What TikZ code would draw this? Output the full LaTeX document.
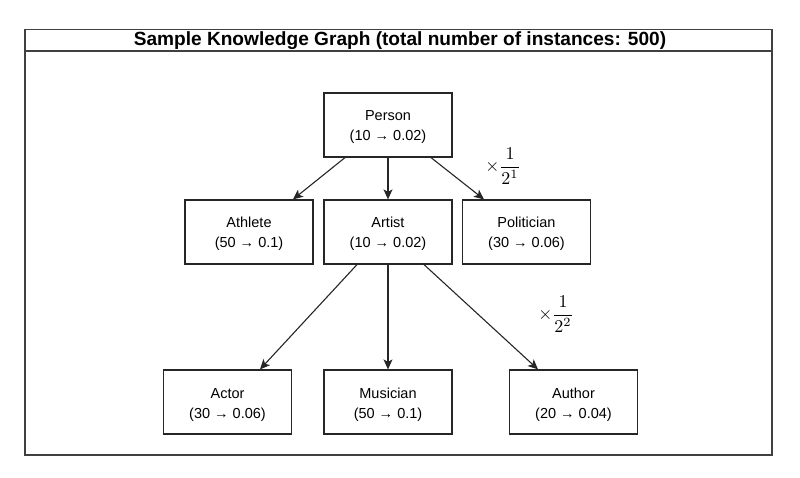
\documentclass[tikz,border=0pt]{standalone}
\usepackage{fontspec}
\setmainfont{Liberation Sans}
\usetikzlibrary{arrows.meta,calc}
\newcommand\kglabel[2]{\rule{0pt}{15pt}#1\\#2}
\begin{document}
\begin{tikzpicture}[x=1pt,y=-1pt,
  kbox/.style={draw=black!85,line width=1.2pt,minimum width=128pt,minimum height=64pt,align=center,inner sep=0pt,
    font=\fontsize{14.5}{20}\selectfont},
  edge/.style={draw=black!85,line width=1.1pt,-{Stealth[length=10pt,width=9pt,inset=2.5pt]}},
  frame/.style={draw=black!75,line width=1.3pt},
  factor/.style={inner sep=0pt}]
\useasboundingbox (0,0) rectangle (800,478);
\draw[frame] (25,29.5) rectangle (772,455);
\draw[frame] (25,51) -- (772,51);
\node[font=\fontsize{19.1}{22}\selectfont\bfseries] (title) at (400,40.5) {Sample Knowledge Graph (total number of instances: 500)};

\node[kbox] (person) at (388,125) {\kglabel{Person}{(10 → 0.02)}};
\node[kbox] (athlete) at (249,232) {\kglabel{Athlete}{(50 → 0.1)}};
\node[kbox] (artist) at (388,232) {\kglabel{Artist}{(10 → 0.02)}};
\node[kbox] (politician) at (526.5,232) {\kglabel{Politician}{(30 → 0.06)}};
\node[kbox] (actor) at (227.5,402) {\kglabel{Actor}{(30 → 0.06)}};
\node[kbox] (musician) at (388,402) {\kglabel{Musician}{(50 → 0.1)}};
\node[kbox] (author) at (573.5,402) {\kglabel{Author}{(20 → 0.04)}};

\draw[edge] ($(person.south)+(-43,0)$) -- ($(athlete.north)+(44,0)$);
\draw[edge] (person.south) -- (artist.north);
\draw[edge] ($(person.south)+(43,0)$) -- ($(politician.north)+(-42.5,0)$);
\draw[edge] ($(artist.south)+(-31,0)$) -- ($(actor.north)+(32.5,0)$);
\draw[edge] (artist.south) -- (musician.north);
\draw[edge] ($(artist.south)+(36,0)$) -- ($(author.north)+(-35.5,0)$);

\node[factor] (f1) at (503,166) {\scalebox{1.8}{$\times\displaystyle\frac{1}{2^1}$}};
\node[factor] (f2) at (556,314) {\scalebox{1.8}{$\times\displaystyle\frac{1}{2^2}$}};
\end{tikzpicture}
\end{document}
